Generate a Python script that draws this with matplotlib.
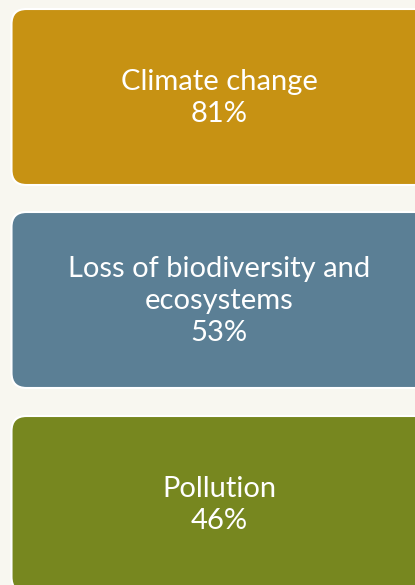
import matplotlib
matplotlib.use('Agg')
import matplotlib.pyplot as plt
from matplotlib.patches import FancyBboxPatch

# concerns and share of respondents
labels = ['Climate change', 'Loss of biodiversity and\necosystems', 'Pollution']
shares = [81, 53, 46]
colors = ['#C79213', '#5B7F95', '#77871F']

plt.rcParams['font.family'] = ['Lato', 'DejaVu Sans']

fig = plt.figure(figsize=(4.15, 5.85), dpi=100)
fig.patch.set_facecolor('#F8F7F0')
ax = fig.add_axes([0, 0, 1, 1])
ax.set_xlim(0, 415)
ax.set_ylim(585, 0)
ax.axis('off')

# box layout in pixel coordinates
left, width = 11.5, 420
tops = [9, 212, 416]
height = 176

for label, share, color, top in zip(labels, shares, colors, tops):
    box = FancyBboxPatch((left, top), width, height,
                         boxstyle='round,pad=0,rounding_size=15',
                         facecolor=color, edgecolor='white', linewidth=1.5)
    ax.add_patch(box)
    ax.text(219, top + height / 2 + 1, '%s\n%d%%' % (label, share),
            ha='center', va='center', color='white', fontsize=21,
            linespacing=1.3)

fig.savefig('out.png', dpi=100, facecolor=fig.get_facecolor())
